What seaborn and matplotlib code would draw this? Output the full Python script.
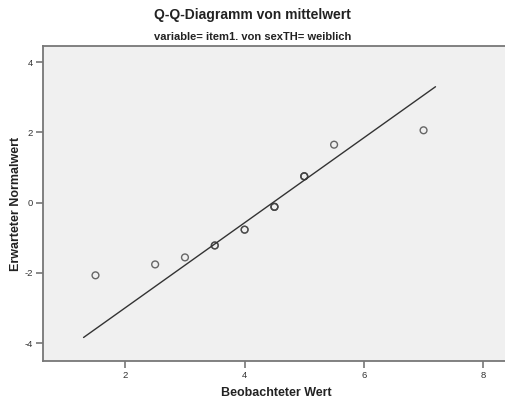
import matplotlib
matplotlib.use("Agg")
import matplotlib.pyplot as plt
import seaborn as sns
import pandas as pd
import numpy as np

# Data
observed = [1.5, 2.5, 3.0, 3.5, 3.5, 4.0, 4.0, 4.5, 4.5, 4.5, 5.0, 5.0, 5.0, 5.5, 7.0]
expected = [-2.07, -1.76, -1.56, -1.22, -1.22, -0.77, -0.77, -0.12, -0.12, -0.12,
            0.75, 0.75, 0.75, 1.65, 2.06]
line_x = [1.3, 7.2]
line_y = [-3.84, 3.30]
x_ticks = [2, 4, 6, 8]
y_ticks = [-4, -2, 0, 2, 4]

title = "Q-Q-Diagramm von mittelwert"
subtitle = "variable= item1. von sexTH= weiblich"
xlabel = "Beobachteter Wert"
ylabel = "Erwarteter Normalwert"

sns.set_style("white")
plt.rcParams['font.family'] = ['Liberation Sans', 'DejaVu Sans']

df = pd.DataFrame({"obs": observed, "exp": expected})
line_df = pd.DataFrame({"x": line_x, "y": line_y})

fig = plt.figure(figsize=(5.05, 4.03), dpi=100)
ax = fig.add_axes([42.7 / 505, (403 - 361) / 403, (505 - 42.7) / 505 + 0.01, (361 - 46) / 403])
ax.set_facecolor("#f0f0f0")

sns.lineplot(data=line_df, x="x", y="y", ax=ax, color="#333333", linewidth=1.0)
sns.scatterplot(data=df, x="obs", y="exp", ax=ax, marker="o", s=24,
                facecolor="none", edgecolor="#444444", linewidth=1.0, alpha=0.8)

ax.set_xlim(0.615, 8.45)
ax.set_ylim(-4.51, 4.46)
ax.set_xticks(x_ticks)
ax.set_yticks(y_ticks)
ax.tick_params(axis="both", which="major", bottom=True, left=True, direction="out",
               length=5, width=1.2, color="#777777",
               labelsize=6.8, labelcolor="#333333", pad=2)
ax.set_xticklabels([str(t) for t in x_ticks])
ax.set_yticklabels([str(t) for t in y_ticks])

for side in ["top", "left", "bottom"]:
    ax.spines[side].set_visible(True)
    ax.spines[side].set_color("#777777")
    ax.spines[side].set_linewidth(1.3)
ax.spines["right"].set_visible(False)

ax.set_xlabel(xlabel, fontsize=9, fontweight="bold", color="#222222", labelpad=5)
ax.set_ylabel(ylabel, fontsize=9, fontweight="bold", color="#222222", labelpad=2)

fig.text(0.5, 1 - 15 / 403, title, ha="center", va="center", fontsize=10,
         fontweight="bold", color="#222222")
fig.text(0.5, 1 - 37 / 403, subtitle, ha="center", va="center", fontsize=8,
         fontweight="bold", color="#222222")

fig.savefig("out.png", dpi=100)
